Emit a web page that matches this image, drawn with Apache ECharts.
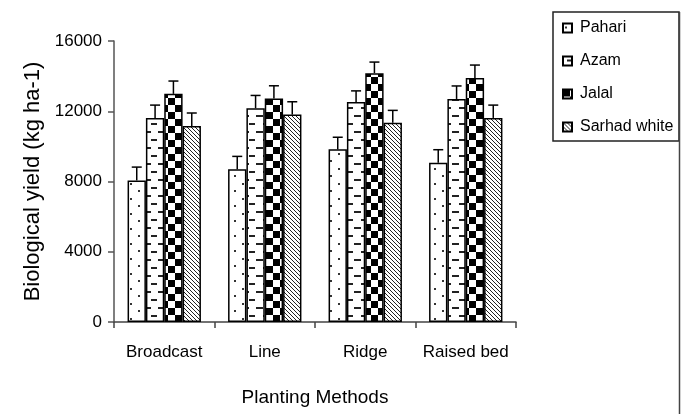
<!DOCTYPE html>
<html>
<head>
<meta charset="utf-8">
<script src="https://cdn.jsdelivr.net/npm/echarts@6/dist/echarts.min.js"></script>
<style>html,body{margin:0;padding:0;background:#fff;}#c{width:690px;height:414px;}</style>
</head>
<body>
<div id="c"></div>
<script>
const categories = ['Broadcast', 'Line', 'Ridge', 'Raised bed'];
const seriesNames = ['Pahari', 'Azam', 'Jalal', 'Sarhad white'];
const pahari = [8060, 8700, 9830, 9070];
const azam = [11620, 12170, 12530, 12700];
const jalal = [12990, 12720, 14170, 13900];
const sarhad = [11160, 11810, 11350, 11620];
const pahariErr = [760, 730, 690, 740];
const azamErr = [730, 730, 630, 740];
const jalalErr = [730, 730, 630, 730];
const sarhadErr = [740, 730, 700, 730];
const yTicks = [0, 4000, 8000, 12000, 16000];

const values = [pahari, azam, jalal, sarhad];
const errs = [pahariErr, azamErr, jalalErr, sarhadErr];

function tile(w, h, draw) {
  const c = document.createElement('canvas');
  c.width = w; c.height = h;
  const g = c.getContext('2d');
  g.fillStyle = '#fff'; g.fillRect(0, 0, w, h);
  draw(g);
  return c;
}
const patterns = [
  tile(16, 15, g => { g.fillStyle = '#333'; g.fillRect(2, 3, 2, 2); g.fillRect(10, 10, 2, 2); }),
  tile(14, 16, g => { g.fillStyle = '#222'; g.fillRect(4, 3, 7, 2); g.fillRect(0, 11, 3, 2); g.fillRect(11, 11, 3, 2); }),
  tile(14, 14, g => { g.fillStyle = '#000'; g.fillRect(0, 0, 7, 7); g.fillRect(7, 7, 7, 7); }),
  tile(4, 4, g => { g.fillStyle = '#222'; for (let i = 0; i < 4; i++) g.fillRect(i, i, 1, 1); })
];

const FONT = 'Liberation Sans, Arial, sans-serif';
const GAP = 0.27;

const barSeries = seriesNames.map((n, i) => ({
  name: n,
  type: 'bar',
  data: values[i],
  barGap: '0%',
  barCategoryGap: '27%',
  itemStyle: { color: { image: patterns[i], repeat: 'repeat' }, borderColor: '#000', borderWidth: 1.5 },
  emphasis: { disabled: true },
  z: 2
}));

const errSeries = seriesNames.map((n, i) => ({
  name: n + ' err',
  type: 'custom',
  data: values[i].map((v, k) => [k, v, errs[i][k]]),
  encode: { x: 0, y: 1 },
  z: 3,
  renderItem: function (params, api) {
    const k = api.value(0), v = api.value(1), e = api.value(2);
    const p = api.coord([k, v]);
    const q = api.coord([k, v + e]);
    const w = api.size([1, 0])[0];
    const gw = w * (1 - GAP);
    const bw = gw / 4;
    const x = p[0] - gw / 2 + bw * (i + 0.5);
    const st = { stroke: '#000', lineWidth: 1.5 };
    return { type: 'group', children: [
      { type: 'line', shape: { x1: x, y1: p[1], x2: x, y2: q[1] }, style: st },
      { type: 'line', shape: { x1: x - 5, y1: q[1], x2: x + 5, y2: q[1] }, style: st }
    ]};
  }
}));

const chart = echarts.init(document.getElementById('c'));
chart.setOption({
  animation: false,
  backgroundColor: '#fff',
  textStyle: { fontFamily: FONT },
  grid: { left: 114, right: 174, top: 41, bottom: 92, containLabel: false },
  legend: {
    data: seriesNames,
    orient: 'vertical',
    left: 557,
    top: 15,
    icon: 'rect',
    itemWidth: 9,
    itemHeight: 9,
    itemGap: 17,
    selectedMode: false,
    textStyle: { fontFamily: FONT, fontSize: 16, color: '#000', padding: [0, 0, 0, 3], lineHeight: 16 }
  },
  xAxis: {
    type: 'category',
    data: categories,
    name: 'Planting Methods',
    nameLocation: 'middle',
    nameGap: 66,
    nameTextStyle: { fontFamily: FONT, fontSize: 19, color: '#000' },
    axisLine: { lineStyle: { color: '#444', width: 1.5 } },
    axisTick: { show: true, length: 6, lineStyle: { color: '#444', width: 1.5 } },
    axisLabel: { fontFamily: FONT, fontSize: 17, color: '#000', margin: 22, interval: 0 },
    splitLine: { show: false }
  },
  yAxis: {
    type: 'value',
    min: yTicks[0],
    max: yTicks[yTicks.length - 1],
    interval: yTicks[1] - yTicks[0],
    name: 'Biological yield (kg ha-1)',
    nameLocation: 'middle',
    nameGap: 64,
    nameTextStyle: { fontFamily: FONT, fontSize: 22, color: '#000' },
    axisLine: { show: true, lineStyle: { color: '#555', width: 1.5 } },
    axisTick: { show: true, length: 6, lineStyle: { color: '#555', width: 1.5 } },
    axisLabel: { fontFamily: FONT, fontSize: 17, color: '#000', margin: 12, formatter: v => String(v) },
    splitLine: { show: false }
  },
  graphic: [
    { type: 'rect', shape: { x: 553, y: 12, width: 126, height: 129 }, style: { fill: 'none', stroke: '#222', lineWidth: 1.5 }, z: 0 },
    { type: 'line', shape: { x1: 679.5, y1: 12, x2: 679.5, y2: 414 }, style: { stroke: '#444', lineWidth: 1.5 }, z: 0 }
  ],
  series: barSeries.concat(errSeries)
});
</script>
</body>
</html>
